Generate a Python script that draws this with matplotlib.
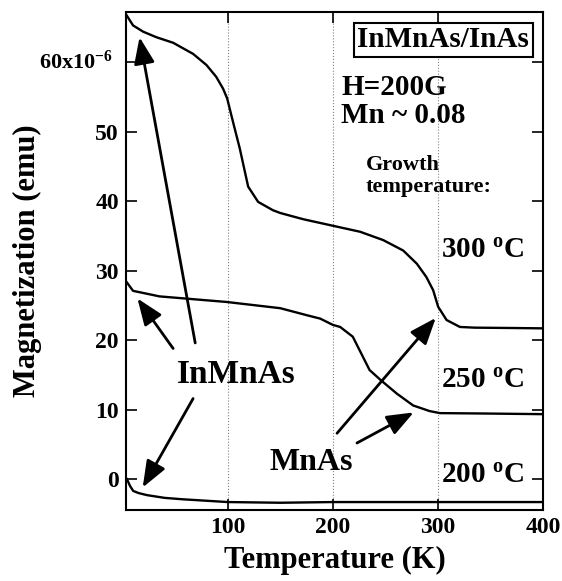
import numpy as np
import matplotlib
matplotlib.use("Agg")
import matplotlib.pyplot as plt

# datos (M en unidades de 1e-6 emu)
t300 = [3.5, 9.8, 19.4, 32, 48, 67, 79.7, 89, 95.5, 99.4, 105, 111.4, 119.4, 128.9, 143, 150, 172, 199,
        226, 248, 267, 280, 289, 295.5, 300.3, 308.3, 321, 335, 370, 400]
m300 = [66.8, 65.3, 64.4, 63.6, 62.8, 61.2, 59.6, 57.9, 56.2, 54.8, 51.4, 47.6, 42.1, 39.9, 38.7, 38.3, 37.4, 36.5,
        35.6, 34.4, 32.9, 31.0, 29.1, 27.2, 24.8, 22.9, 21.9, 21.8, 21.75, 21.7]

t250 = [3.5, 9.8, 35, 98.7, 150, 175, 188, 200, 207, 219, 227, 235, 246, 261, 276.5, 292, 302, 340, 400]
m250 = [28.4, 27.1, 26.3, 25.5, 24.6, 23.6, 23.1, 22.2, 21.9, 20.5, 18.1, 15.7, 14.2, 12.3, 10.6, 9.8, 9.5, 9.45, 9.35]

t200 = [4, 7, 10, 15, 23, 40, 57, 100, 150, 200, 300, 400]
m200 = [0.0, -1.0, -1.7, -2.0, -2.3, -2.7, -2.9, -3.3, -3.4, -3.3, -3.3, -3.3]

xticks = [100, 200, 300, 400]
yticks = [0, 10, 20, 30, 40, 50, 60]
ytick_labels = ["0", "10", "20", "30", "40", "50", ""]

# flechas: (cola, punta)
flechas_inmnas = [((69, 19.6), (16, 63.6)), ((48, 18.8), (14, 26.0)), ((67, 11.6), (19, -1.2))]
flechas_mnas = [((204, 6.6), (298, 23.2)), ((223, 5.2), (277, 9.6))]

plt.rcParams['font.family'] = ['Liberation Serif', 'DejaVu Serif']
plt.rcParams['font.weight'] = 'bold'
plt.rcParams['mathtext.fontset'] = 'custom'
plt.rcParams['mathtext.rm'] = 'Liberation Serif:bold'
plt.rcParams['mathtext.bf'] = 'Liberation Serif:bold'
plt.rcParams['mathtext.it'] = 'Liberation Serif:bold'

fig = plt.figure(figsize=(5.62, 5.81), dpi=100)
ax = fig.add_axes([0.224, 0.122, 0.742, 0.857])

for t, m in [(t300, m300), (t250, m250), (t200, m200)]:
    ax.plot(t, m, color='black', lw=1.7, solid_joinstyle='round')

ax.set_xlim(3, 400)
ax.set_ylim(-4.46, 67.2)
ax.set_xticks(xticks)
ax.set_yticks(yticks)
ax.set_yticklabels(ytick_labels)
ax.tick_params(direction='in', length=8, width=1.2, top=True, right=True,
               labelsize=17, pad=5)
for lab in ax.get_xticklabels() + ax.get_yticklabels():
    lab.set_fontweight('bold')
for s in ax.spines.values():
    s.set_linewidth(1.5)
ax.xaxis.grid(True, linestyle=':', color='gray', lw=0.8)

ax.text(-9.5, 59.1, r"60x10$^{-6}$", fontsize=16, ha='right', va='baseline', clip_on=False)

ax.set_xlabel("Temperature (K)", fontsize=22, fontweight='bold', labelpad=6)
ax.set_ylabel("Magnetization (emu)", fontsize=22, fontweight='bold')
ax.yaxis.set_label_coords(-0.2, 0.5)

ax.text(305, 63.2, "InMnAs/InAs", fontsize=21, ha='center', va='center',
        bbox=dict(boxstyle='square,pad=0.12', fc='white', ec='black', lw=1.5))
ax.text(208, 55.3, "H=200G", fontsize=21, va='baseline')
ax.text(208, 51.2, "Mn ~ 0.08", fontsize=21, va='baseline')
ax.text(231, 44.5, "Growth", fontsize=16, va='baseline')
ax.text(231, 41.3, "temperature:", fontsize=16, va='baseline')
ax.text(303, 31.8, r"300 $^{\mathbf{o}}$C", fontsize=21, va='baseline')
ax.text(303, 13.1, r"250 $^{\mathbf{o}}$C", fontsize=21, va='baseline')
ax.text(303, -0.6, r"200 $^{\mathbf{o}}$C", fontsize=21, va='baseline')

ax.text(52, 13.8, "InMnAs", fontsize=24, va='baseline')
ax.text(140, 1.3, "MnAs", fontsize=23, va='baseline')

for cola, punta in flechas_inmnas + flechas_mnas:
    ax.annotate('', xy=punta, xytext=cola,
                arrowprops=dict(arrowstyle='-|>,head_length=0.9,head_width=0.35',
                                lw=2, color='black', shrinkA=0, shrinkB=0,
                                mutation_scale=18))

fig.savefig("out.png", dpi=100)
